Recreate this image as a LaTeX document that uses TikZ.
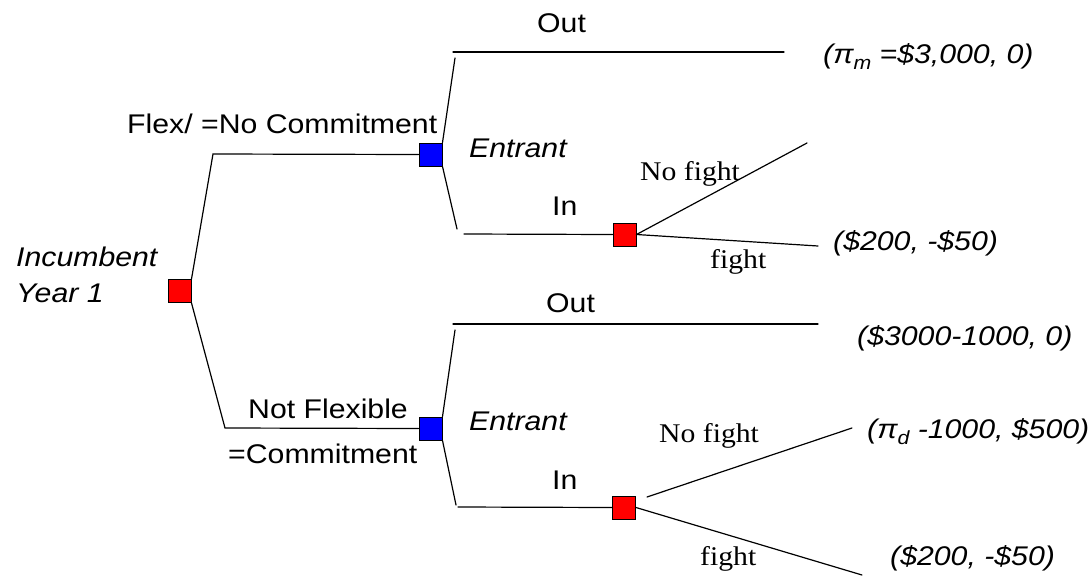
\documentclass[tikz,border=0pt]{standalone}
\usepackage{fontspec}
\setmainfont{Liberation Sans}[FakeStretch=1.12]
\newfontfamily\timesf{Liberation Serif}[FakeStretch=1.1]
\newcommand{\lowsub}[1]{\raisebox{-6pt}{\fontsize{19}{19}\selectfont #1}}
\begin{document}
\begin{tikzpicture}[x=1pt,y=-1pt,
  every node/.style={font=\fontsize{27}{30}\selectfont, inner sep=0pt},
  lbl/.style={anchor=base west},
  ilbl/.style={anchor=base west, font=\fontsize{27}{30}\selectfont\itshape},
  tlbl/.style={anchor=base west, font=\fontsize{27}{30}\selectfont\timesf},
  sq/.style={draw=black, line width=1pt, minimum size=23pt, inner sep=0pt},
  redsq/.style={sq, fill=red},
  bluesq/.style={sq, fill=blue},
  br/.style={line width=1.2pt, line cap=round}]
\useasboundingbox (0,0) rectangle (1089,576);
% decision nodes
\node[redsq] (r1) at (179.5,291) {};
\node[bluesq] (b1) at (430.5,154.5) {};
\node[bluesq] (b2) at (430.5,428.5) {};
\node[redsq] (r2) at (624.5,234.5) {};
\node[redsq] (r3) at (624,507.5) {};
% coordinates
\coordinate (c1) at (213,154);
\coordinate (c2) at (225,428);
\coordinate (t1) at (455,58);
\coordinate (o1a) at (453,52);
\coordinate (o1b) at (784,52);
\coordinate (t2) at (457,229);
\coordinate (i1) at (464,234);
\coordinate (nf1) at (807,143);
\coordinate (f1) at (818,246);
\coordinate (t3) at (455,330);
\coordinate (o2a) at (453,324);
\coordinate (o2b) at (818,324);
\coordinate (t4) at (456,505);
\coordinate (i2) at (458,507);
\coordinate (nf2a) at (647,497);
\coordinate (nf2b) at (852,428);
\coordinate (f2) at (862,575);
% branches
\draw[br] (r1.north east) -- (c1) -- (b1.west);
\draw[br] (r1.south east) -- (c2) -- (b2.west);
\draw[br] (b1.north east) -- (t1);
\draw[br] (o1a) -- (o1b);
\draw[br] (b1.south east) -- (t2);
\draw[br] (i1) -- (r2.west);
\draw[br] (r2.east) -- (nf1);
\draw[br] (r2.east) -- (f1);
\draw[br] (b2.north east) -- (t3);
\draw[br] (o2a) -- (o2b);
\draw[br] (b2.south east) -- (t4);
\draw[br] (i2) -- (r3.west);
\draw[br] (nf2a) -- (nf2b);
\draw[br] (r3.east) -- (f2);
% labels
\node[ilbl] (inc) at (16,266) {Incumbent};
\node[ilbl] (yr) at (16,302) {Year 1};
\node[lbl] (flex) at (127,133) {Flex/ =No Commitment};
\node[lbl] (notflex) at (248,418) {Not Flexible};
\node[lbl] (commit) at (228,463) {=Commitment};
\node[lbl] (out1) at (537,32) {Out};
\node[lbl] (out2) at (546,312) {Out};
\node[ilbl] (ent1) at (469,157) {Entrant};
\node[ilbl] (ent2) at (469,430) {Entrant};
\node[lbl] (in1) at (552,215) {In};
\node[lbl] (in2) at (552,489) {In};
\node[tlbl] (nofight1) at (640,180) {No fight};
\node[tlbl] (fight1) at (710,268) {fight};
\node[tlbl] (nofight2) at (659,442) {No fight};
\node[tlbl] (fight2) at (700,565) {fight};
% payoffs
\node[ilbl] (p1) at (823,63) {(π\lowsub{m} =\$3,000, 0)};
\node[ilbl] (p2) at (833,250) {(\$200, -\$50)};
\node[ilbl] (p3) at (857,345) {(\$3000-1000, 0)};
\node[ilbl] (p4) at (867,438) {(π\lowsub{d} -1000, \$500)};
\node[ilbl] (p5) at (890,565) {(\$200, -\$50)};
\end{tikzpicture}
\end{document}
